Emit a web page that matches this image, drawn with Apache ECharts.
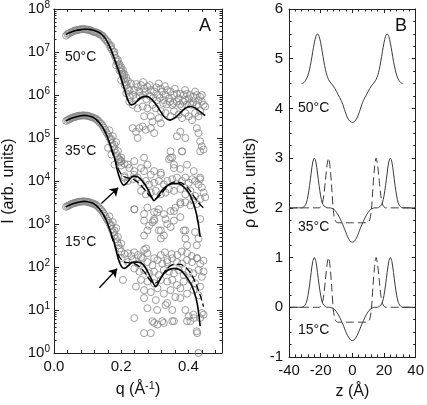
<!DOCTYPE html>
<html><head><meta charset="utf-8">
<script src="https://cdn.jsdelivr.net/npm/echarts@6/dist/echarts.min.js"></script>
<style>html,body{margin:0;padding:0;background:#fff}#c{width:427px;height:405px}</style>
</head><body><div id="c"></div>
<script>
// ---------------- Panel A data: q (1/Å), I (arb. units) ----------------
const scatter50 = [
[.036,2.4e7],[.040,2.6e7],[.044,2.7e7],[.048,2.8e7],[.052,2.9e7],[.056,3.0e7],[.060,3.1e7],[.064,3.2e7],[.068,3.2e7],[.072,3.3e7],[.076,3.3e7],[.080,3.4e7],[.084,3.4e7],[.088,3.4e7],[.092,3.4e7],[.096,3.3e7],[.100,3.3e7],[.104,3.3e7],[.108,3.2e7],[.112,3.1e7],[.116,3.0e7],[.120,2.9e7],[.124,2.9e7],[.128,2.8e7],[.132,2.7e7],[.136,2.6e7],[.140,2.5e7],[.144,2.4e7],[.148,2.2e7],[.152,2.0e7],[.156,1.85e7],[.160,1.7e7],[.164,1.5e7],[.168,1.3e7],[.172,1.15e7],[.176,1.0e7],[.180,8.5e6],[.184,7.2e6],[.188,6.0e6],[.192,5.0e6],[.196,4.2e6],[.200,3.5e6],[.204,2.9e6],[.208,2.4e6],[.212,2.0e6],[.216,1.7e6],
[.17,1.4e7],[.18,1.0e7],[.19,6.5e6],[.195,5.2e6],[.2,4.4e6],[.205,3.8e6],[.21,3.0e6],[.215,2.5e6],[.22,2.1e6],
[.185,4.9e6],[.195,3.7e6],[.205,3.2e6],[.200,2.2e6],[.21,1.7e6],[.22,1.4e6],[.229,1.85e6],[.239,1.3e6],[.249,1.55e6],[.254,1.2e6],[.259,1.7e6],[.268,1.4e6],[.273,1.2e6],[.278,1.55e6],[.288,1.3e6],[.298,1.2e6],[.308,1.0e6],[.312,1.85e6],[.318,1.4e6],[.322,1.2e6],[.332,1.0e6],[.337,1.3e6],[.342,8.3e5],[.347,1.2e6],[.357,1.0e6],[.366,1.07e6],[.371,8.3e5],[.376,1.07e6],[.386,1.0e6],[.391,7.6e5],[.396,1.07e6],[.401,8.3e5],[.406,1.0e6],[.415,9.1e5],[.425,1.0e6],[.43,7.6e5],[.435,9.1e5],[.44,7.0e5],[.445,5.9e5],[.45,5.4e5],
[.224,7.0e5],[.234,5.9e5],[.249,4.9e5],[.264,5.4e5],[.278,4.9e5],[.293,5.9e5],[.303,4.9e5],[.318,4.2e5],[.332,3.8e5],[.347,3.2e5],[.357,4.2e5],[.371,3.5e5],[.381,2.9e5],[.391,3.8e5],[.401,3.2e5],[.411,2.6e5],[.42,3.8e5],[.43,3.2e5],[.435,4.2e5],[.327,7.6e5],[.352,5.9e5],[.381,5.4e5],[.411,5.9e5],[.268,3.2e5],[.288,3.2e5],[.312,2.9e5],[.318,2.2e5],
[.215,1.1e6],[.225,9e5],[.235,1.0e6],[.245,8.5e5],[.255,9.5e5],[.265,1.0e6],[.275,8.0e5],[.285,9.5e5],[.295,8.5e5],[.305,7.5e5],[.315,8.5e5],[.325,6.5e5],[.335,6.0e5],[.345,7.0e5],[.355,6.5e5],[.365,7.0e5],[.375,6.0e5],[.385,7.0e5],[.395,6.0e5],[.405,6.5e5],[.415,6.8e5],[.425,6.0e5],[.225,1.25e6],[.245,1.8e6],[.265,2.0e6],[.285,1.7e6],[.305,1.5e6],[.33,1.6e6],[.36,1.4e6],[.39,1.3e6],[.42,1.2e6],[.44,1.0e6],
[.234,1.7e5],[.244,1.4e5],[.254,1.7e5],[.264,1.85e5],[.273,1.55e5],[.288,1.7e5],[.298,1.3e5],[.249,1.0e5],[.293,2.4e5],[.366,1.1e5],[.376,1.4e5],[.391,1.0e5],[.425,1.7e5],[.43,1.3e5],[.435,8.4e4],[.44,6.4e4],[.445,5.4e4],[.435,4.9e4],[.347,4.9e4],[.381,4.9e4],[.352,3.5e4],[.357,2.4e4]
];
const scatter35 = [
[.036,2.5e5],[.04,2.6e5],[.044,2.7e5],[.048,2.8e5],[.052,2.9e5],[.056,3.0e5],[.06,3.05e5],[.064,3.1e5],[.068,3.2e5],[.072,3.25e5],[.076,3.3e5],[.08,3.3e5],[.084,3.35e5],[.088,3.35e5],[.092,3.35e5],[.096,3.3e5],[.1,3.3e5],[.104,3.2e5],[.108,3.15e5],[.112,3.05e5],[.116,3.0e5],[.12,2.9e5],[.124,2.8e5],[.128,2.65e5],[.132,2.5e5],[.136,2.3e5],[.14,2.15e5],[.144,1.95e5],[.148,1.75e5],[.152,1.55e5],[.156,1.35e5],[.16,1.2e5],[.164,1.05e5],[.168,9.0e4],[.172,7.6e4],[.176,6.4e4],[.18,5.4e4],[.184,4.5e4],[.188,3.8e4],[.192,3.2e4],[.196,2.7e4],[.2,2.3e4],[.17,9.5e4],[.18,7.0e4],[.19,5.0e4],[.2,3.5e4],[.165,1.5e5],[.175,1.1e5],[.185,8e4],
[.347,3.5e4],[.376,1.9e4],[.318,1.55e4],[.288,1.4e4],[.268,1.7e4],[.239,1.7e4],[.224,2.0e4],[.21,2.5e4],[.2,2.9e4],[.195,3.2e4],[.21,1.3e4],[.22,1.0e4],[.234,1.1e4],[.249,1.2e4],[.259,9.1e3],[.273,1.0e4],[.283,8.3e3],[.298,9.1e3],[.312,1.0e4],[.327,8.3e3],[.337,1.0e4],[.352,1.1e4],[.366,1.2e4],[.381,1.0e4],[.391,1.2e4],[.401,9.1e3],[.411,1.1e4],[.42,1.0e4],[.43,8.3e3],[.435,1.1e4],[.44,7.1e3],[.445,5.4e3],[.45,4.2e3],
[.259,5.9e3],[.273,4.9e3],[.288,5.4e3],[.303,5.9e3],[.318,4.9e3],[.332,5.4e3],[.342,6.5e3],[.357,5.9e3],[.376,6.5e3],[.391,4.9e3],[.406,5.9e3],[.42,4.5e3],[.435,3.8e3],[.239,2.2e3],[.268,1.7e3],[.278,2.4e3],[.298,1.9e3],[.312,2.2e3],[.327,1.7e3],[.347,2.0e3],[.361,2.4e3],[.376,2.9e3],[.391,3.2e3],[.406,2.7e3],[.415,3.5e3],[.425,2.9e3],[.268,1.2e3],[.283,9.1e2],[.293,1.1e3],[.312,7.1e2],[.318,4.6e2],[.337,1.0e3],[.347,8.5e2],[.357,1.2e3],[.376,1.45e3],[.386,7.1e2],[.42,6.5e2],[.425,3.2e2],[.391,4.6e2],[.298,1.3e3],[.332,1.3e3],
[.2,2.9e4],[.22,2.4e4],[.239,2.9e4],[.259,2.0e4],[.278,2.4e4],[.298,1.7e4],[.318,1.4e4],[.239,1.4e4],[.21,1.2e4],[.18,2.4e4],[.171,4.1e4],[.161,5.9e4],[.342,3.2e4],[.381,4.9e4],[.416,1.7e4],[.435,1.2e4],[.357,2.0e4],[.396,2.4e4],[.268,3.5e4],
[.239,2.2e3],[.307,1.85e3],[.357,2.0e3],[.298,1.2e3],[.318,7.1e2],[.391,7.1e2],[.43,4.6e2],[.396,3.2e2],[.376,3.2e3],[.435,1.3e3],[.278,7.1e2],[.327,5.4e2],[.268,5.4e2]
];
const scatter15 = [
[.036,2.5e3],[.04,2.6e3],[.044,2.7e3],[.048,2.8e3],[.052,2.9e3],[.056,3.0e3],[.06,3.05e3],[.064,3.1e3],[.068,3.2e3],[.072,3.25e3],[.076,3.3e3],[.08,3.3e3],[.084,3.35e3],[.088,3.35e3],[.092,3.35e3],[.096,3.3e3],[.1,3.3e3],[.104,3.2e3],[.108,3.15e3],[.112,3.05e3],[.116,3.0e3],[.12,2.9e3],[.124,2.8e3],[.128,2.65e3],[.132,2.5e3],[.136,2.3e3],[.14,2.15e3],[.144,1.95e3],[.148,1.75e3],[.152,1.55e3],[.156,1.35e3],[.16,1.2e3],[.164,1.05e3],[.168,9.0e2],[.172,7.6e2],[.176,6.4e2],[.18,5.4e2],[.184,4.5e2],[.188,3.8e2],[.192,3.2e2],[.196,2.7e2],[.2,2.3e2],[.17,9.5e2],[.18,7.0e2],[.19,5.0e2],[.2,3.5e2],[.165,1.5e3],[.175,1.1e3],[.185,8e2],
[.22,2.1e2],[.239,2.2e2],[.259,1.7e2],[.278,2.1e2],[.298,1.6e2],[.318,1.9e2],[.337,1.45e2],[.367,1.9e2],[.396,2.1e2],[.426,1.6e2],[.445,1.4e2],[.268,2.5e2],[.274,2.7e2],[.25,1.9e2],[.35,2.0e2],[.38,2.3e2],[.41,1.8e2],[.23,1.8e2],[.21,2.0e2],[.33,2.2e2],
[.2,1.6e2],[.22,1.3e2],[.234,1.45e2],[.249,1.2e2],[.264,1.6e2],[.278,1.3e2],[.293,1.1e2],[.308,1.45e2],[.322,1.2e2],[.337,1.3e2],[.352,1.6e2],[.366,1.3e2],[.381,1.2e2],[.396,1.45e2],[.411,1.3e2],[.425,1.6e2],[.435,1.2e2],[.445,7.8e1],[.205,5.0e1],
[.239,9.2e1],[.254,7.8e1],[.268,8.5e1],[.283,7.1e1],[.298,7.8e1],[.312,6.5e1],[.327,8.5e1],[.342,7.8e1],[.357,7.1e1],[.371,8.5e1],[.386,6.5e1],[.401,7.8e1],[.415,7.1e1],[.43,8.5e1],[.44,5.9e1],
[.259,5.0e1],[.278,4.6e1],[.298,4.2e1],[.318,5.0e1],[.337,4.6e1],[.352,5.0e1],[.366,3.8e1],[.386,4.6e1],[.406,5.0e1],[.42,4.2e1],[.435,3.5e1],
[.268,2.9e1],[.288,2.6e1],[.308,3.2e1],[.327,2.4e1],[.347,2.9e1],[.361,2.0e1],[.376,3.2e1],[.396,2.4e1],[.415,2.9e1],[.43,2.2e1],[.268,1.9e1],[.303,1.7e1],[.332,1.3e1],[.352,1.0e1],[.391,1.0e1],[.401,7.1],[.415,7.8],[.435,6.5],[.406,5.5],[.44,8.5],[.239,6.5],[.293,5.5],[.308,4.6],[.298,5.0],[.322,5.5],[.352,5.5],[.268,2.9],[.288,2.9],[.425,3.2],[.43,1.0],[.376,1.9e1],[.337,1.45e1],
[.244,3.5e1],[.278,1.1e1],[.307,1.0e1],[.357,5.5],[.327,5.0],[.416,6.5],[.426,2.9],[.445,7.8],[.396,5.5]
];
const fit50 = [[.035,2.57e7],[.05,2.88e7],[.065,3.16e7],[.08,3.31e7],[.09,3.39e7],[.10,3.39e7],[.11,3.31e7],[.12,3.16e7],[.13,2.95e7],[.14,2.63e7],[.15,2.19e7],[.16,1.66e7],[.17,1.12e7],[.18,6.9e6],[.19,4.1e6],[.20,2.4e6],[.21,1.32e6],[.22,7.6e5],[.23,5.9e5],[.24,6.3e5],[.255,8.3e5],[.27,9.3e5],[.285,8.7e5],[.30,6.6e5],[.315,4.4e5],[.33,3.0e5],[.345,2.6e5],[.36,2.95e5],[.375,3.8e5],[.39,4.9e5],[.405,5.4e5],[.42,5.0e5],[.435,4.1e5],[.45,3.3e5]];
const fit35 = [[.035,2.5e5],[.05,2.85e5],[.065,3.1e5],[.08,3.3e5],[.09,3.35e5],[.1,3.3e5],[.11,3.15e5],[.12,2.9e5],[.13,2.5e5],[.14,2.0e5],[.15,1.5e5],[.16,1.0e5],[.17,6.0e4],[.18,3.5e4],[.19,1.6e4],[.2,9.5e3],[.207,8.0e3],[.215,8.7e3],[.225,1.1e4],[.237,1.3e4],[.25,1.25e4],[.265,9.5e3],[.28,6.3e3],[.29,4.3e3],[.298,3.5e3],[.31,4.5e3],[.325,6.5e3],[.34,8.0e3],[.355,8.7e3],[.37,8.7e3],[.385,7.4e3],[.4,5.5e3],[.41,3.8e3],[.42,2.3e3],[.428,1.2e3],[.435,5.0e2]];
const fit35dash = [[.17,5.5e4],[.18,3.3e4],[.19,2.0e4],[.2,1.45e4],[.21,1.25e4],[.225,1.15e4],[.24,1.05e4],[.255,8.5e3],[.27,6.3e3],[.285,4.5e3],[.3,3.8e3],[.315,4.6e3],[.33,6.5e3],[.345,8.5e3],[.36,9.5e3],[.375,9.3e3],[.39,8.0e3],[.405,6.0e3],[.42,4.0e3],[.435,2.8e3],[.45,2.2e3]];
const fit15 = [[.035,2.5e3],[.05,2.85e3],[.065,3.1e3],[.08,3.3e3],[.09,3.35e3],[.1,3.3e3],[.11,3.15e3],[.12,2.9e3],[.13,2.5e3],[.14,2.0e3],[.15,1.5e3],[.16,1.0e3],[.17,6.0e2],[.18,3.5e2],[.19,1.7e2],[.2,1.05e2],[.21,9.3e1],[.22,1.05e2],[.235,1.3e2],[.25,1.3e2],[.265,1.15e2],[.28,7.5e1],[.29,5.2e1],[.303,3.5e1],[.315,5.0e1],[.327,7.1e1],[.34,8.5e1],[.357,9.3e1],[.376,8.5e1],[.39,6.5e1],[.406,4.2e1],[.416,2.8e1],[.426,1.45e1],[.435,4.2e0]];
const fit15dash = [[.17,5.5e2],[.18,3.3e2],[.19,2.0e2],[.2,1.5e2],[.21,1.3e2],[.225,1.25e2],[.24,1.2e2],[.255,1.0e2],[.27,7.5e1],[.285,5.0e1],[.3,4.2e1],[.315,5.0e1],[.33,8.0e1],[.345,1.05e2],[.36,1.15e2],[.375,1.15e2],[.39,1.0e2],[.405,7.5e1],[.42,4.5e1],[.435,2.2e1],[.445,1.2e1]];
// arrows (tail, head) in data coordinates
const arrow35 = [[0.141, 3.0e3], [0.191, 7.0e3]];
const arrow15 = [[0.135, 33], [0.188, 91]];

// ---------------- Panel B data: z (Å), rho (arb. units) ----------------
const zB = [-40,-36,-32,-31,-30,-29,-28,-27,-26,-25,-24,-23,-22,-21,-20,-19,-18,-17,-16,-15,-14,-13,-12,-11,-10,-9,-8,-7,-6,-5,-4,-3,-2,-1,0,1,2,3,4,5,6,7,8,9,10,11,12,13,14,15,16,17,18,19,20,21,22,23,24,25,26,27,28,29,30,31,32,36,40];
const rho35 = [2.0,2.0, 2.0,2.01,2.04,2.1,2.24,2.45,2.70,2.92,3.0,2.92,2.70,2.45,2.24,2.1,2.04,2.02,2.0,2.0,2.0,1.99,1.98,1.95,1.91,1.86,1.80,1.73,1.66,1.58,1.50,1.42,1.36,1.32, 1.31, 1.32,1.36,1.42,1.50,1.58,1.66,1.73,1.80,1.86,1.91,1.95,1.98,1.99,2.0,2.0,2.0,2.02,2.04,2.1,2.24,2.45,2.70,2.92,3.0,2.92,2.70,2.45,2.24,2.1,2.04,2.01,2.0, 2.0,2.0];
const rho35dash = [2.0,2.0, 2.0,2.0,2.0,2.0,2.0,2.0,2.0,2.0,2.0,2.0,2.0,2.0,2.02,2.08,2.25,2.55,2.85,3.0,2.8,2.4,1.95,1.76,1.71,1.70,1.70,1.70,1.70,1.70,1.70,1.70,1.70,1.70, 1.70, 1.70,1.70,1.70,1.70,1.70,1.70,1.70,1.70,1.70,1.71,1.76,1.95,2.4,2.8,3.0,2.85,2.55,2.25,2.08,2.02,2.0,2.0,2.0,2.0,2.0,2.0,2.0,2.0,2.0,2.0,2.0,2.0, 2.0,2.0];
const rho15 = [0,0, 0,0.01,0.04,0.1,0.24,0.45,0.70,0.92,1.0,0.92,0.70,0.45,0.24,0.1,0.04,0.02,0,0,0,-0.01,-0.02,-0.05,-0.09,-0.14,-0.20,-0.27,-0.34,-0.42,-0.50,-0.57,-0.62,-0.66, -0.67, -0.66,-0.62,-0.57,-0.50,-0.42,-0.34,-0.27,-0.20,-0.14,-0.09,-0.05,-0.02,-0.01,0,0,0,0.02,0.04,0.1,0.24,0.45,0.70,0.92,1.0,0.92,0.70,0.45,0.24,0.1,0.04,0.01,0, 0,0];
const rho15dash = [0,0, 0,0,0,0,0,0,0,0,0,0,0,0,0.02,0.08,0.25,0.55,0.85,1.0,0.8,0.4,-0.05,-0.24,-0.29,-0.30,-0.30,-0.30,-0.30,-0.30,-0.30,-0.30,-0.30,-0.30, -0.30, -0.30,-0.30,-0.30,-0.30,-0.30,-0.30,-0.30,-0.30,-0.30,-0.29,-0.24,-0.05,0.4,0.8,1.0,0.85,0.55,0.25,0.08,0.02,0,0,0,0,0,0,0,0,0,0,0,0, 0,0];
const z50 = [-32,-31,-30,-29,-28,-27,-26,-25,-24,-23,-22,-21,-20,-19,-18,-17,-16,-15,-14,-13,-12,-11,-10,-9,-8,-7,-6,-5,-4,-3,-2,-1,0,1,2,3,4,5,6,7,8,9,10,11,12,13,14,15,16,17,18,19,20,21,22,23,24,25,26,27,28,29,30,31,32];
const rho50 = [4.50,4.51,4.54,4.59,4.67,4.79,4.95,5.14,5.32,5.45,5.5,5.45,5.32,5.14,4.95,4.78,4.66,4.58,4.53,4.49,4.45,4.40,4.34,4.28,4.22,4.16,4.08,3.98,3.89,3.81,3.76,3.73, 3.72, 3.73,3.76,3.81,3.89,3.98,4.08,4.16,4.22,4.28,4.34,4.40,4.45,4.49,4.53,4.58,4.66,4.78,4.95,5.14,5.32,5.45,5.5,5.45,5.32,5.14,4.95,4.79,4.67,4.59,4.54,4.51,4.50];

// ---------------- Tick labels ----------------
const qTickLabels = [0.0, 0.2, 0.4];
const zTickLabels = [-40, -20, 0, 20, 40];

// ---------------- Chart ----------------
const FONT = "'Liberation Sans', Arial, sans-serif";
const INK = '#111';
const AX = '#222';
const chart = echarts.init(document.getElementById('c'), null, {renderer: 'canvas'});

const pair = (xs, ys) => xs.map((x, i) => [x, ys[i]]);
const logMinor = [];
for (let d = 0; d < 8; d++) for (let m = 2; m <= 9; m++) logMinor.push(d + Math.log10(m));

const lineAx = {show: true, onZero: false, lineStyle: {color: AX, width: 1}};
function xAx(grid, pos, o) {
  return Object.assign({
    gridIndex: grid, type: 'value', position: pos,
    axisLine: lineAx, splitLine: {show: false},
    axisTick: {show: true, inside: true, length: 4, lineStyle: {color: AX}},
    minorTick: {show: true, splitNumber: 5, length: 2.5, lineStyle: {color: AX}},
    axisLabel: {show: false}
  }, o);
}
const gridA = {left: 52, top: 9, width: 170, height: 348};
const gridB = {left: 289, top: 9, width: 127, height: 348};

const option = {
  animation: false,
  backgroundColor: '#fff',
  grid: [gridA, gridB],
  xAxis: [
    xAx(0, 'bottom', {min: 0, max: 0.5, interval: 0.04, minorTick: {show: false},
      axisTick: {show: true, inside: true, length: 3, lineStyle: {color: AX}},
      axisLabel: {show: true, margin: 6, fontSize: 15, fontFamily: FONT, color: INK,
        formatter: v => { const t = qTickLabels.find(l => Math.abs(l - v) < 1e-6); return t === undefined ? '' : t.toFixed(1); }},
      name: '{n|q (Å}{s|-1}{n|)}', nameLocation: 'middle', nameGap: 27,
      nameTextStyle: {rich: {n: {fontSize: 16, fontFamily: FONT, color: INK, lineHeight: 20},
                             s: {fontSize: 11, fontFamily: FONT, color: INK, lineHeight: 20, padding: [0, 0, 9, 0]}}}}),
    xAx(0, 'top', {min: 0, max: 0.5, interval: 0.04, minorTick: {show: false},
      axisTick: {show: true, inside: true, length: 3, lineStyle: {color: AX}}}),
    xAx(1, 'bottom', {min: -40, max: 40, interval: 20,
      axisLabel: {show: true, margin: 6, fontSize: 15, fontFamily: FONT, color: INK,
        formatter: v => zTickLabels.includes(v) ? String(v) : ''},
      name: 'z (Å)', nameLocation: 'middle', nameGap: 27,
      nameTextStyle: {fontSize: 16, fontFamily: FONT, color: INK}}),
    xAx(1, 'top', {min: -40, max: 40, interval: 20})
  ],
  yAxis: [
    {gridIndex: 0, type: 'log', logBase: 10, min: 1, max: 1e8, splitNumber: 8, position: 'left',
      axisLine: lineAx, splitLine: {show: false},
      axisTick: {show: true, inside: true, length: 5, lineStyle: {color: AX}},
      axisLabel: {show: true, margin: 4, fontFamily: FONT, color: INK,
        formatter: v => '{b|10}{e|' + Math.round(Math.log10(v)) + '}',
        rich: {b: {fontSize: 15, fontFamily: FONT, color: INK, lineHeight: 18},
               e: {fontSize: 10, fontFamily: FONT, color: INK, lineHeight: 18, padding: [0, 0, 8, 0]}}},
      name: 'I (arb. units)', nameLocation: 'middle', nameRotate: 90, nameGap: 37,
      nameTextStyle: {fontSize: 16, fontFamily: FONT, color: INK}},
    {gridIndex: 0, type: 'log', logBase: 10, min: 1, max: 1e8, splitNumber: 8, position: 'right',
      axisLine: lineAx, splitLine: {show: false}, axisLabel: {show: false},
      axisTick: {show: true, inside: true, length: 5, lineStyle: {color: AX}}},
    {gridIndex: 0, type: 'value', min: 0, max: 8, position: 'left', axisLine: {show: false, onZero: false},
      splitLine: {show: false}, axisLabel: {show: false},
      axisTick: {show: true, inside: true, length: 2.5, customValues: logMinor, lineStyle: {color: AX}}},
    {gridIndex: 0, type: 'value', min: 0, max: 8, position: 'right', axisLine: {show: false, onZero: false},
      splitLine: {show: false}, axisLabel: {show: false},
      axisTick: {show: true, inside: true, length: 2.5, customValues: logMinor, lineStyle: {color: AX}}},
    {gridIndex: 1, type: 'value', min: -1, max: 6, interval: 1, position: 'left',
      axisLine: lineAx, splitLine: {show: false},
      axisTick: {show: true, inside: true, length: 4, lineStyle: {color: AX}},
      minorTick: {show: true, splitNumber: 4, length: 2.5, lineStyle: {color: AX}},
      axisLabel: {show: true, margin: 6, fontSize: 15, fontFamily: FONT, color: INK},
      name: 'ρ (arb. units)', nameLocation: 'middle', nameRotate: 90, nameGap: 30,
      nameTextStyle: {fontSize: 16, fontFamily: FONT, color: INK}},
    {gridIndex: 1, type: 'value', min: -1, max: 6, interval: 1, position: 'right',
      axisLine: lineAx, splitLine: {show: false}, axisLabel: {show: false},
      axisTick: {show: true, inside: true, length: 4, lineStyle: {color: AX}},
      minorTick: {show: true, splitNumber: 4, length: 2.5, lineStyle: {color: AX}}}
  ],
  series: []
};

const scatStyle = {color: 'rgba(0,0,0,0)', borderColor: '#858585', borderWidth: 1};
[scatter50, scatter35, scatter15].forEach(d => option.series.push({
  type: 'scatter', xAxisIndex: 0, yAxisIndex: 0, data: d, symbol: 'circle', symbolSize: 7,
  itemStyle: scatStyle, silent: true, z: 2
}));
function fitLine(d, dashed, extra) {
  return Object.assign({type: 'line', xAxisIndex: 0, yAxisIndex: 0, data: d, symbol: 'none', smooth: 0.35,
    lineStyle: {color: '#000', width: dashed ? 1.3 : 1.6, type: dashed ? [7, 3] : 'solid'}, z: 5, silent: true}, extra || {});
}
const arrowML = a => ({silent: true, symbol: ['none', 'arrow'], symbolSize: 8, label: {show: false},
  lineStyle: {color: '#000', width: 1.3, type: 'solid'}, emphasis: {disabled: true},
  data: [[{coord: a[0]}, {coord: a[1]}]]});
option.series.push(fitLine(fit50, false));
option.series.push(fitLine(fit35, false, {markLine: arrowML(arrow35)}));
option.series.push(fitLine(fit35dash, true));
option.series.push(fitLine(fit15, false, {markLine: arrowML(arrow15)}));
option.series.push(fitLine(fit15dash, true));

function profLine(xs, ys, dashed) {
  return {type: 'line', xAxisIndex: 2, yAxisIndex: 4, data: pair(xs, ys), symbol: 'none', smooth: 0.3,
    lineStyle: {color: '#3a3a3a', width: 1, type: dashed ? [8, 4] : 'solid'}, silent: true};
}
option.series.push(profLine(z50, rho50, false));
option.series.push(profLine(zB, rho35, false));
option.series.push(profLine(zB, rho35dash, true));
option.series.push(profLine(zB, rho15, false));
option.series.push(profLine(zB, rho15dash, true));

const txt = (x, y, s, size, align) => ({type: 'text', x: x, y: y, z: 10,
  style: {text: s, fontSize: size, fontFamily: FONT, fill: INK, align: align || 'left', verticalAlign: 'middle'}});
option.graphic = [
  txt(205, 26, 'A', 18, 'center'), txt(401, 26, 'B', 18, 'center'),
  txt(65, 57, '50°C', 14), txt(65, 151, '35°C', 14), txt(65, 242, '15°C', 14),
  txt(298, 108, '50°C', 14), txt(298, 227, '35°C', 14), txt(298, 330, '15°C', 14)
];
chart.setOption(option);
</script></body></html>
